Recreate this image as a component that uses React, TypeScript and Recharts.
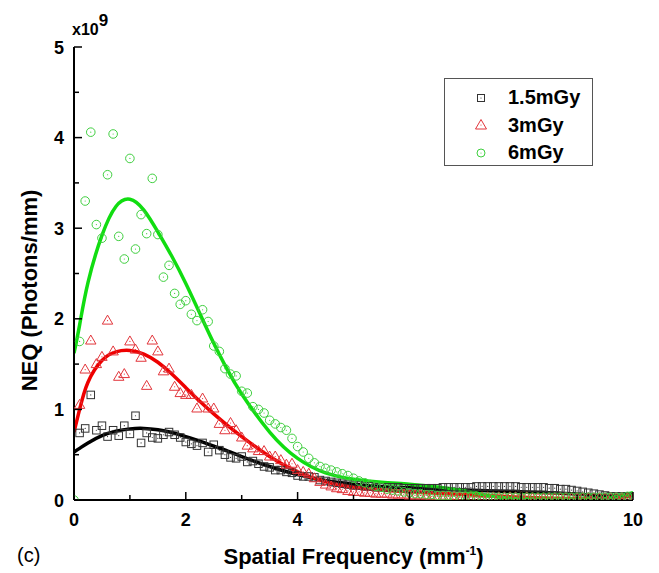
import {
  ComposedChart, Scatter, Line, XAxis, YAxis, Legend, Label,
} from 'recharts';

const freq = [
  0, 0.1, 0.2, 0.3, 0.4, 0.5, 0.6, 0.7, 0.8, 0.9,
  1, 1.1, 1.2, 1.3, 1.4, 1.5, 1.6, 1.7, 1.8, 1.9,
  2, 2.1, 2.2, 2.3, 2.4, 2.5, 2.6, 2.7, 2.8, 2.9,
  3, 3.1, 3.2, 3.3, 3.4, 3.5, 3.6, 3.7, 3.8, 3.9,
  4, 4.1, 4.2, 4.3, 4.4, 4.5, 4.6, 4.7, 4.8, 4.9,
  5, 5.1, 5.2, 5.3, 5.4, 5.5, 5.6, 5.7, 5.8, 5.9,
  6, 6.1, 6.2, 6.3, 6.4, 6.5, 6.6, 6.7, 6.8, 6.9,
  7, 7.1, 7.2, 7.3, 7.4, 7.5, 7.6, 7.7, 7.8, 7.9,
  8, 8.1, 8.2, 8.3, 8.4, 8.5, 8.6, 8.7, 8.8, 8.9,
  9, 9.1, 9.2, 9.3, 9.4, 9.5, 9.6, 9.7, 9.8, 9.9,
  10,
];

// measured NEQ, x10^9 photons/mm
const neq15 = [
  null, 0.74, 0.79, 1.16, 0.77, 0.82, 0.70, 0.77, 0.71, 0.82,
  0.73, 0.93, 0.63, 0.74, 0.69, 0.68, 0.72, 0.75, 0.72, 0.69,
  0.64, 0.62, 0.60, 0.63, 0.53, 0.61, 0.55, 0.50, 0.47, 0.46,
  0.48, 0.42, 0.43, 0.40, 0.37, 0.36, 0.33, 0.33, 0.31, 0.30,
  0.27, 0.26, 0.26, 0.25, 0.22, 0.21, 0.20, 0.19, 0.18, 0.17,
  0.16, 0.16, 0.15, 0.15, 0.14, 0.14, 0.14, 0.14, 0.14, 0.13,
  0.13, 0.13, 0.13, 0.13, 0.13, 0.13, 0.14, 0.14, 0.14, 0.14,
  0.14, 0.14, 0.15, 0.15, 0.15, 0.15, 0.15, 0.15, 0.15, 0.15,
  0.14, 0.14, 0.14, 0.14, 0.14, 0.13, 0.13, 0.12, 0.12, 0.11,
  0.10, 0.09, 0.08, 0.07, 0.06, 0.05, 0.04, 0.04, 0.04, 0.04,
  0.04,
];
const neq3 = [
  null, 1.05, 1.44, 1.76, 1.50, 1.58, 1.98, 1.64, 1.36, 1.39,
  1.75, 1.66, 1.57, 1.26, 1.76, 1.64, 1.42, 1.45, 1.25, 1.18,
  1.16, 1.16, 1.01, 1.12, 1.01, 1.01, 0.84, 0.77, 0.85, 0.77,
  0.69, 0.60, 0.57, 0.54, 0.54, 0.48, 0.48, 0.44, 0.39, 0.40,
  0.33, 0.31, 0.29, 0.24, 0.20, 0.17, 0.15, 0.13, 0.12, 0.10,
  0.09, 0.09, 0.08, 0.08, 0.07, 0.07, 0.07, 0.06, 0.06, 0.06,
  0.05, 0.05, 0.05, 0.05, 0.04, 0.04, 0.04, 0.04, 0.04, 0.03,
  0.03, 0.03, 0.03, 0.03, 0.03, 0.03, 0.03, 0.03, 0.03, 0.03,
  0.03, 0.03, 0.02, 0.02, 0.02, 0.02, 0.02, 0.02, 0.02, 0.02,
  0.02, 0.02, 0.02, 0.02, 0.02, 0.02, 0.02, 0.02, 0.02, 0.02,
  0.02,
];
const neq6 = [
  0.0, 1.75, 3.30, 4.06, 3.04, 2.89, 3.59, 4.04, 2.91, 2.66,
  3.77, 2.77, 3.15, 2.94, 3.55, 2.93, 2.46, 2.59, 2.28, 2.16,
  2.20, 2.05, 1.98, 2.10, 1.97, 1.70, 1.64, 1.45, 1.39, 1.37,
  1.20, 1.18, 1.03, 1.00, 0.96, 0.88, 0.84, 0.80, 0.77, 0.68,
  0.59, 0.53, 0.46, 0.41, 0.37, 0.35, 0.33, 0.31, 0.29, 0.27,
  0.24, 0.21, 0.19, 0.17, 0.15, 0.14, 0.12, 0.11, 0.10, 0.09,
  0.08, 0.07, 0.07, 0.06, 0.06, 0.05, 0.05, 0.05, 0.04, 0.04,
  0.04, 0.04, 0.04, 0.03, 0.03, 0.03, 0.03, 0.03, 0.03, 0.03,
  0.03, 0.03, 0.03, 0.03, 0.03, 0.03, 0.03, 0.03, 0.03, 0.03,
  0.03, 0.03, 0.03, 0.03, 0.03, 0.03, 0.03, 0.03, 0.03, 0.04,
  0.04,
];

// fitted curves
const fitFreq = [0, 0.1, 0.25, 0.5, 0.75, 1, 1.25, 1.5, 1.75, 2, 2.25, 2.5, 2.75, 3, 3.5, 4, 4.5, 5, 5.5, 6, 6.5, 7, 7.5, 8, 8.5, 9, 9.5, 10];
const fit15 = [0.53, 0.57, 0.63, 0.71, 0.76, 0.785, 0.79, 0.775, 0.745, 0.70, 0.65, 0.595, 0.54, 0.48, 0.37, 0.28, 0.215, 0.175, 0.15, 0.135, 0.12, 0.11, 0.10, 0.09, 0.08, 0.065, 0.045, 0.05];
const fit3 = [0.75, 1.0, 1.3, 1.54, 1.635, 1.65, 1.61, 1.52, 1.39, 1.24, 1.09, 0.95, 0.82, 0.70, 0.48, 0.31, 0.20, 0.14, 0.11, 0.09, 0.075, 0.06, 0.045, 0.03, 0.02, 0.015, 0.015, 0.05];
const fit6 = [1.62, 1.93, 2.4, 2.92, 3.24, 3.32, 3.2, 2.96, 2.69, 2.39, 2.06, 1.73, 1.43, 1.17, 0.75, 0.46, 0.3, 0.23, 0.195, 0.175, 0.145, 0.1, 0.04, 0.01, 0.005, 0.005, 0.015, 0.08];

const xTicks = [0, 1, 2, 3, 4, 5, 6, 7, 8, 9, 10];
const yTicks = [0, 0.5, 1, 1.5, 2, 2.5, 3, 3.5, 4, 4.5, 5];

const BLACK = '#333333';
const RED = '#e2353b';
const GREEN = '#3fcf3f';
const FONT = '"Liberation Sans", Arial, sans-serif';

const toPts = (vals: (number | null)[]) =>
  freq.map((x, i) => ({ x, y: vals[i] })).filter(d => d.y !== null);
const toFit = (vals: number[]) => fitFreq.map((x, i) => ({ x, y: vals[i] }));

const SquareDot = (p: any) => (
  <g>
    <rect x={p.cx - 3.75} y={p.cy - 3.75} width={7.5} height={7.5} fill="none" stroke={BLACK} strokeWidth={1} />
    <circle cx={p.cx} cy={p.cy} r={0.6} fill={BLACK} />
  </g>
);
const TriDot = (p: any) => (
  <g>
    <path d={`M${p.cx},${p.cy - 5.5} L${p.cx + 5.2},${p.cy + 3.5} L${p.cx - 5.2},${p.cy + 3.5} Z`} fill="none" stroke={RED} strokeWidth={1} />
    <circle cx={p.cx} cy={p.cy} r={0.6} fill={RED} />
  </g>
);
const CircDot = (p: any) => (
  <g>
    <circle cx={p.cx} cy={p.cy} r={4.3} fill="none" stroke={GREEN} strokeWidth={1} />
    <circle cx={p.cx} cy={p.cy} r={0.6} fill={GREEN} />
  </g>
);

const tickText = { fontFamily: FONT, fontWeight: 700, fontSize: 18, fill: '#000' };

const BottomTick = ({ x, y, payload }: any) => {
  const major = payload.value % 2 === 0;
  return (
    <g>
      <line x1={x} x2={x} y1={y} y2={y - (major ? 8 : 5)} stroke="#000" strokeWidth={1.5} />
      {major && <text x={x} y={y + 26} textAnchor="middle" {...tickText}>{payload.value}</text>}
    </g>
  );
};
const TopTick = ({ x, y, payload }: any) => {
  const major = payload.value % 2 === 0;
  return <line x1={x} x2={x} y1={y} y2={y + (major ? 8 : 5)} stroke="#000" strokeWidth={1.5} />;
};
const LeftTick = ({ x, y, payload }: any) => {
  const major = Number.isInteger(payload.value);
  return (
    <g>
      <line x1={x} x2={x + (major ? 8 : 5)} y1={y} y2={y} stroke="#000" strokeWidth={1.5} />
      {major && <text x={x - 10} y={y + 6.5} textAnchor="end" {...tickText}>{payload.value}</text>}
    </g>
  );
};
const RightTick = ({ x, y, payload }: any) => {
  const major = Number.isInteger(payload.value);
  return <line x1={x} x2={x - (major ? 8 : 5)} y1={y} y2={y} stroke="#000" strokeWidth={1.5} />;
};

const XTitle = ({ viewBox }: any) => {
  const cx = viewBox.x + viewBox.width / 2;
  return (
    <g>
      <text x={cx} y={viewBox.y + 64} textAnchor="middle" fontFamily={FONT} fontWeight={700} fontSize={22} fill="#000">
        Spatial Frequency (mm<tspan dy={-9} fontSize={12}>-1</tspan><tspan dy={9}>)</tspan>
      </text>
      <text x={9} y={viewBox.y + 62} fontFamily={FONT} fontSize={20} fill="#000">(c)</text>
    </g>
  );
};
const YTitle = ({ viewBox }: any) => {
  const cx = 21;
  const cy = viewBox.y + viewBox.height / 2 + 17;
  return (
    <g>
      <text x={cx} y={cy} transform={`rotate(-90 ${cx} ${cy})`} textAnchor="middle" dominantBaseline="central" fontFamily={FONT} fontWeight={700} fontSize={22} fill="#000">
        NEQ (Photons/mm)
      </text>
      <text x={viewBox.x + viewBox.width - 2} y={viewBox.y - 12} fontFamily={FONT} fontWeight={700} fontSize={16} fill="#000">
        x10<tspan dy={-9} fontSize={17}>9</tspan>
      </text>
    </g>
  );
};

const legendRows = [
  { name: '1.5mGy', mark: 'square', color: BLACK },
  { name: '3mGy', mark: 'triangle', color: RED },
  { name: '6mGy', mark: 'circle', color: GREEN },
];

const LegendBox = () => (
  <div style={{ width: 147, height: 81, border: '1px solid #555', background: '#fff', boxSizing: 'content-box', paddingTop: 5 }}>
    {legendRows.map(r => (
      <div key={r.name} style={{ display: 'flex', alignItems: 'center', height: 27.5 }}>
        <svg width={14} height={14} style={{ marginLeft: 29, marginRight: 20 }}>
          {r.mark === 'square' && <rect x={3.5} y={3.5} width={7} height={7} fill="none" stroke={r.color} />}
          {r.mark === 'triangle' && <path d="M7,1.5 L12.5,11 L1.5,11 Z" fill="none" stroke={r.color} />}
          {r.mark === 'circle' && <circle cx={7} cy={7} r={4} fill="none" stroke={r.color} />}
          <circle cx={7} cy={7} r={0.6} fill={r.color} />
        </svg>
        <span style={{ fontFamily: FONT, fontWeight: 700, fontSize: 20, color: '#000' }}>{r.name}</span>
      </div>
    ))}
  </div>
);

export default function App() {
  return (
    <ComposedChart width={643} height={565} margin={{ top: 39, right: 18, bottom: 43, left: 16 }}>
      <XAxis xAxisId="b" type="number" dataKey="x" domain={[0, 10]} ticks={xTicks} interval={0}
        axisLine={{ stroke: '#000', strokeWidth: 2 }} tickLine={false} tickSize={0} tickMargin={0}
        tick={BottomTick} height={30} allowDataOverflow>
        <Label content={XTitle} />
      </XAxis>
      <XAxis xAxisId="t" orientation="top" type="number" dataKey="x" domain={[0, 10]} ticks={xTicks} interval={0}
        axisLine={{ stroke: '#000', strokeWidth: 2 }} tickLine={false} tickSize={0} tickMargin={0}
        tick={TopTick} height={0} allowDataOverflow />
      <YAxis yAxisId="l" type="number" domain={[0, 5]} ticks={yTicks} interval={0}
        axisLine={{ stroke: '#000', strokeWidth: 2 }} tickLine={false} tickSize={0} tickMargin={0}
        tick={LeftTick} width={50} allowDataOverflow>
        <Label content={YTitle} />
      </YAxis>
      <YAxis yAxisId="r" orientation="right" type="number" domain={[0, 5]} ticks={yTicks} interval={0}
        axisLine={{ stroke: '#000', strokeWidth: 2 }} tickLine={false} tickSize={0} tickMargin={0}
        tick={RightTick} width={0} allowDataOverflow />
      <Legend content={LegendBox} layout="vertical" align="center" verticalAlign="middle"
        wrapperStyle={{ left: 436, top: 70, width: 'auto', height: 'auto' }} />
      <Scatter xAxisId="b" yAxisId="l" data={toPts(neq15)} dataKey="y" shape={SquareDot} isAnimationActive={false} />
      <Scatter xAxisId="b" yAxisId="l" data={toPts(neq3)} dataKey="y" shape={TriDot} isAnimationActive={false} />
      <Scatter xAxisId="b" yAxisId="l" data={toPts(neq6)} dataKey="y" shape={CircDot} isAnimationActive={false} />
      <Line xAxisId="b" yAxisId="l" data={toFit(fit15)} dataKey="y" type="natural" stroke="#000" strokeWidth={3.5} dot={false} isAnimationActive={false} />
      <Line xAxisId="b" yAxisId="l" data={toFit(fit3)} dataKey="y" type="natural" stroke="#ee0000" strokeWidth={3.5} dot={false} isAnimationActive={false} />
      <Line xAxisId="b" yAxisId="l" data={toFit(fit6)} dataKey="y" type="natural" stroke="#11dd11" strokeWidth={3.5} dot={false} isAnimationActive={false} />
    </ComposedChart>
  );
}
